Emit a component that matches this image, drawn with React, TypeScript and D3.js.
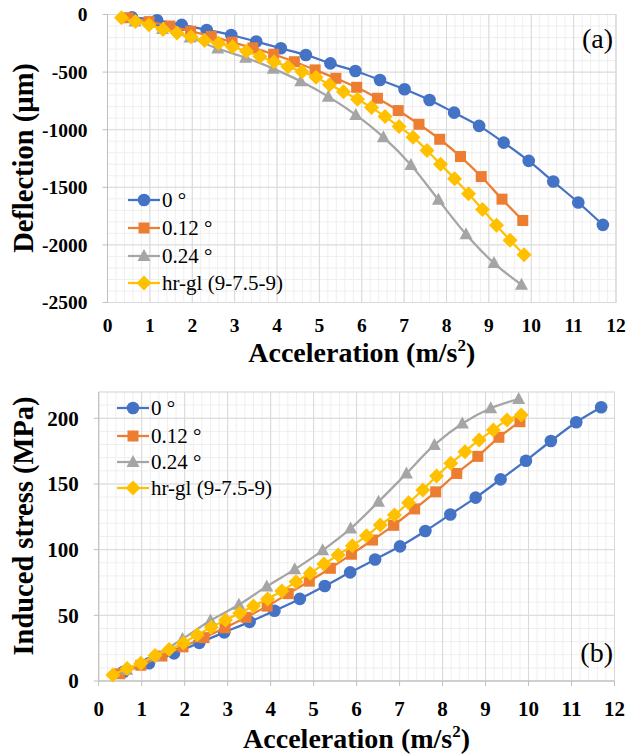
import React from "react";
import * as d3 from "d3";

// ---------- data ----------
const blueX = [0.58, 1.17, 1.75, 2.34, 2.92, 3.51, 4.09, 4.68, 5.26, 5.85, 6.43, 7.01, 7.6, 8.18, 8.77, 9.35, 9.94, 10.52, 11.11, 11.69];
const blueDefl = [-25, -50, -90, -134, -178, -235, -293, -351, -424, -490, -568, -649, -742, -852, -967, -1112, -1271, -1450, -1632, -1826];
const blueStress = [7, 13.5, 21, 29, 37, 45, 53.5, 62.5, 72.3, 82.7, 92.5, 102.5, 114.2, 126.8, 139.6, 153.5, 167.7, 182.7, 197, 208.4];

const orangeX = [0.49, 0.98, 1.47, 1.96, 2.45, 2.94, 3.43, 3.92, 4.41, 4.9, 5.39, 5.88, 6.37, 6.86, 7.35, 7.84, 8.33, 8.82, 9.31, 9.8];
const orangeDefl = [-28, -62, -100, -145, -190, -240, -290, -345, -410, -481, -554, -632, -727, -834, -953, -1083, -1233, -1407, -1603, -1788];
const orangeStress = [5.5, 12, 19, 26, 33, 40.5, 48.5, 57, 66.5, 76, 85.8, 96.5, 107.3, 118.5, 131, 144, 158, 171, 185.5, 197.4];

const grayX = [0.65, 1.3, 1.95, 2.6, 3.26, 3.91, 4.56, 5.21, 5.86, 6.51, 7.16, 7.81, 8.46, 9.12, 9.77];
const grayDefl = [-60, -125, -200, -295, -375, -470, -580, -713, -872, -1065, -1306, -1609, -1907, -2158, -2346];
const grayStress = [8.5, 19, 32, 46, 58, 72, 85, 99.5, 116, 136.5, 158, 179.7, 196, 207.6, 214.7];

const yellowX = [0.33, 0.66, 0.98, 1.31, 1.64, 1.97, 2.29, 2.62, 2.95, 3.28, 3.6, 3.93, 4.26, 4.59, 4.92, 5.24, 5.57, 5.9, 6.23, 6.55, 6.88, 7.21, 7.54, 7.86, 8.19, 8.52, 8.85, 9.18, 9.5, 9.83];
const yellowDefl = [-28, -60, -88, -130, -160, -193, -225, -250, -280, -320, -365, -410, -453, -496, -545, -610, -670, -736, -808, -886, -973, -1065, -1180, -1300, -1425, -1555, -1692, -1830, -1960, -2086];
const yellowStress = [4.6, 9.6, 13.5, 19.5, 24, 29, 35, 41, 46.5, 51.5, 57, 62.5, 68.5, 75.5, 82, 89, 96, 103, 110.5, 118.8, 126.4, 135.7, 145.4, 156, 165.7, 174.6, 183.5, 191, 198.7, 202.5];

const seriesNames = ["0 \u00B0", "0.12 \u00B0", "0.24 \u00B0", "hr-gl (9-7.5-9)"];
const seriesColors = ["#4472C4", "#ED7D31", "#A5A5A5", "#FFC000"];
const seriesShapes = ["circle", "square", "triangle", "diamond"];

const xTicks = [0, 1, 2, 3, 4, 5, 6, 7, 8, 9, 10, 11, 12];
const deflTicks = [0, -500, -1000, -1500, -2000, -2500];
const stressTicks = [0, 50, 100, 150, 200];

const FONT = "Liberation Serif";

function Marker({ shape, x, y, color }: { shape: string; x: number; y: number; color: string }) {
  if (shape === "circle") return <circle cx={x} cy={y} r={6.3} fill={color} />;
  if (shape === "square") return <rect x={x - 5.5} y={y - 5.5} width={11} height={11} fill={color} />;
  if (shape === "triangle")
    return <path d={`M${x},${y - 7} L${x + 6.5},${y + 5} L${x - 6.5},${y + 5} Z`} fill={color} />;
  return <path d={`M${x},${y - 7.5} L${x + 7.5},${y} L${x},${y + 7.5} L${x - 7.5},${y} Z`} fill={color} />;
}

type Cfg = {
  xs: number[][];
  ys: number[][];
  yDomain: [number, number];
  yRange: [number, number];
  xRange: [number, number];
  yTicks: number[];
  minorY: number;
  yTitle: string;
  yTitleY: number;
  xTickY: number;
  xTitleY: number;
  tickSize: number;
  legendX: number;
  legendY: number[];
  tag: string;
  tagY: number;
  axisAtBottom: boolean;
};

const txt = (bold: boolean) => ({ fontFamily: FONT, fontWeight: bold ? 700 : 400 });

function Chart(c: Cfg) {
  const x = d3.scaleLinear().domain([0, 12]).range(c.xRange);
  const y = d3.scaleLinear().domain(c.yDomain).range(c.yRange);
  const [y0, y1] = c.yDomain;
  const minorXs = d3.range(0, 12.0001, 0.2);
  const minorYs = d3.range(y0, y1 + 0.0001, c.minorY);
  const majorYs = c.yTicks;
  const line = d3
    .line<[number, number]>()
    .x((d) => x(d[0]))
    .y((d) => y(d[1]))
    .curve(d3.curveCatmullRom.alpha(0.5));
  const left = c.xRange[0];
  const right = c.xRange[1];
  const top = Math.min(...c.yRange);
  const bottom = Math.max(...c.yRange);
  const midX = (left + right) / 2;
  return (
    <g>
      {minorXs.map((v, i) => (
        <line key={"mx" + i} x1={x(v)} x2={x(v)} y1={top} y2={bottom} stroke="#efefef" strokeWidth={1} />
      ))}
      {minorYs.map((v, i) => (
        <line key={"my" + i} x1={left} x2={right} y1={y(v)} y2={y(v)} stroke="#efefef" strokeWidth={1} />
      ))}
      {xTicks.map((v) => (
        <line key={"Mx" + v} x1={x(v)} x2={x(v)} y1={top} y2={bottom} stroke="#d9d9d9" strokeWidth={1} />
      ))}
      {majorYs.map((v) => (
        <line key={"My" + v} x1={left} x2={right} y1={y(v)} y2={y(v)} stroke="#d9d9d9" strokeWidth={1} />
      ))}
      <rect x={left} y={top} width={right - left} height={bottom - top} fill="none" stroke="#d9d9d9" />
      {/* axes */}
      <line x1={left} x2={left} y1={top} y2={bottom} stroke="#bfbfbf" strokeWidth={1} />
      {majorYs.map((v) => (
        <line key={"ty" + v} x1={left - 5} x2={left} y1={y(v)} y2={y(v)} stroke="#bfbfbf" />
      ))}
      {c.axisAtBottom && (
        <g>
          <line x1={left} x2={right} y1={y(0)} y2={y(0)} stroke="#bfbfbf" strokeWidth={1} />
          {xTicks.map((v) => (
            <line key={"tx" + v} x1={x(v)} x2={x(v)} y1={y(0)} y2={y(0) + 5} stroke="#bfbfbf" />
          ))}
        </g>
      )}
      {/* series */}
      {c.xs.map((xs, si) => {
        const pts: [number, number][] = xs.map((v, i) => [v, c.ys[si][i]]);
        return (
          <g key={"s" + si}>
            <path d={line(pts) || ""} fill="none" stroke={seriesColors[si]} strokeWidth={2.25} />
            {pts.map((p, i) => (
              <Marker key={i} shape={seriesShapes[si]} x={x(p[0])} y={y(p[1])} color={seriesColors[si]} />
            ))}
          </g>
        );
      })}
      {/* tick labels */}
      {majorYs.map((v) => (
        <text key={"yl" + v} x={left - 20} y={y(v)} dy="0.35em" textAnchor="end" style={txt(true)} fontSize={c.tickSize} fill="#000">
          {v}
        </text>
      ))}
      {xTicks.map((v) => (
        <text key={"xl" + v} x={x(v)} y={c.xTickY} textAnchor="middle" style={txt(true)} fontSize={c.tickSize} fill="#000">
          {v}
        </text>
      ))}
      <text x={midX} y={c.xTitleY} textAnchor="middle" style={txt(true)} fontSize={28} fill="#000">
        Acceleration (m/s
        <tspan fontSize={17} dy={-11}>2</tspan>
        <tspan dy={11}>)</tspan>
      </text>
      <text
        transform={`translate(33, ${c.yTitleY}) rotate(-90)`}
        textAnchor="middle"
        style={txt(true)}
        fontSize={28.5}
        fill="#000"
      >
        {c.yTitle}
      </text>
      {/* legend */}
      {seriesNames.map((n, i) => (
        <g key={"lg" + i}>
          <line x1={c.legendX} x2={c.legendX + 32} y1={c.legendY[i]} y2={c.legendY[i]} stroke={seriesColors[i]} strokeWidth={2.25} />
          <Marker shape={seriesShapes[i]} x={c.legendX + 16} y={c.legendY[i]} color={seriesColors[i]} />
          <text x={c.legendX + 34} y={c.legendY[i]} dy="0.35em" style={txt(false)} fontSize={21} fill="#000">
            {n}
          </text>
        </g>
      ))}
      <text x={613} y={c.tagY} textAnchor="end" style={txt(false)} fontSize={28} fill="#000">
        {c.tag}
      </text>
    </g>
  );
}

export default function App() {
  return (
    <svg width={629} height={755} style={{ position: "absolute", left: 0, top: 0, background: "#fff" }}>
      <rect width={629} height={755} fill="#fff" />
      <Chart
        xs={[blueX, orangeX, grayX, yellowX]}
        ys={[blueDefl, orangeDefl, grayDefl, yellowDefl]}
        yDomain={[-2500, 0]}
        yRange={[302.5, 14.5]}
        xRange={[107.5, 616]}
        yTicks={deflTicks}
        minorY={100}
        yTitle="Deflection (µm)"
        yTitleY={158}
        xTickY={332}
        xTitleY={362}
        tickSize={19.5}
        legendX={128}
        legendY={[200, 228, 256, 283]}
        tag="(a)"
        tagY={48}
        axisAtBottom={false}
      />
      <Chart
        xs={[blueX, orangeX, grayX, yellowX]}
        ys={[blueStress, orangeStress, grayStress, yellowStress]}
        yDomain={[0, 220]}
        yRange={[681, 392]}
        xRange={[98.7, 614.5]}
        yTicks={stressTicks}
        minorY={10}
        yTitle="Induced stress (MPa)"
        yTitleY={526}
        xTickY={716}
        xTitleY={748}
        tickSize={21}
        legendX={117}
        legendY={[408, 436, 462, 488]}
        tag="(b)"
        tagY={662}
        axisAtBottom={true}
      />
    </svg>
  );
}
